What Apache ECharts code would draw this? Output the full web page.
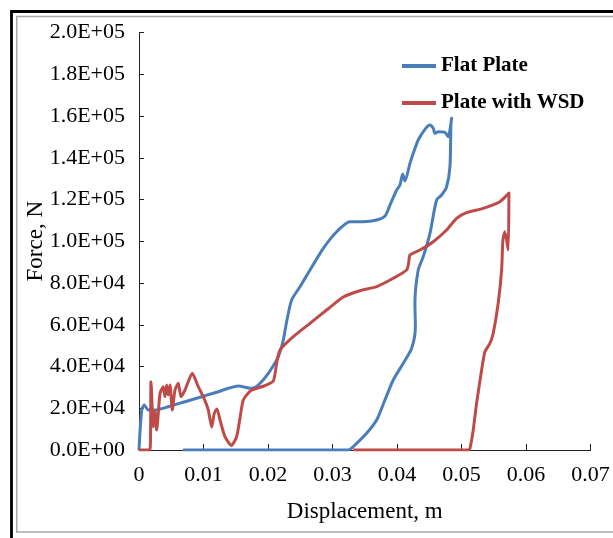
<!DOCTYPE html>
<html>
<head>
<meta charset="utf-8">
<script src="https://cdn.jsdelivr.net/npm/echarts@6/dist/echarts.min.js"></script>
<style>
  html, body { margin: 0; padding: 0; background: #fff; }
  #chart { width: 613px; height: 538px; }
</style>
</head>
<body>
<div id="chart"></div>
<script>
// Force–displacement response, displacement in m, force in N
const flatPlateDisp = [0, 0.00042, 0.00082, 0.00144, 0.00248, 0.00454, 0.00713, 0.00972, 0.01229, 0.01384,
  0.0154, 0.01747, 0.0185, 0.02005, 0.0216, 0.02237, 0.02294, 0.02367, 0.02496, 0.02651,
  0.02857, 0.03065, 0.03271, 0.03477, 0.03685, 0.03814, 0.03891, 0.03995, 0.04046, 0.04088,
  0.04123, 0.04201, 0.04252, 0.04329, 0.04433, 0.0451, 0.04562, 0.04588, 0.04639, 0.04743,
  0.04794, 0.04821, 0.04847, 0.04836, 0.04821, 0.04769, 0.04692, 0.04614, 0.04511, 0.04407,
  0.04329, 0.04278, 0.04285, 0.04227, 0.04097, 0.03942, 0.03813, 0.03684, 0.03529, 0.03374,
  0.03244, 0.00682];
const flatPlateForce = [0, 19160, 21560, 19160, 19160, 20740, 23140, 25530, 27930, 29550,
  30660, 29550, 31140, 36740, 44690, 52690, 62270, 71850, 78220, 86220,
  96610, 104570, 109360, 109360, 110170, 112090, 117360, 124540, 126940, 132200,
  128850, 137330, 142120, 148490, 153610, 155680, 154100, 151700, 152470, 152180,
  150070, 153280, 158890, 155680, 135700, 126120, 122150, 119750, 103800, 92620,
  86220, 70270, 59060, 48710, 41530, 33530, 23950, 14370, 8000, 3210,
  0, 0];

const wsdDisp = [0, 0.0017, 0.00186, 0.00222, 0.00248, 0.00274, 0.00326, 0.00377, 0.00403, 0.00429,
  0.00454, 0.00481, 0.00516, 0.00558, 0.00609, 0.00651, 0.00713, 0.00826, 0.00919, 0.00997,
  0.01074, 0.01127, 0.01167, 0.01209, 0.01256, 0.01333, 0.01434, 0.01514, 0.01566, 0.01617,
  0.01736, 0.01938, 0.02082, 0.02134, 0.02186, 0.02392, 0.02651, 0.02909, 0.03167, 0.03426,
  0.03684, 0.03942, 0.04149, 0.0418, 0.04201, 0.04356, 0.04562, 0.04769, 0.04924, 0.05079,
  0.05337, 0.05595, 0.05735, 0.05724, 0.05673, 0.05642, 0.05622, 0.05569, 0.05492, 0.05441,
  0.05363, 0.05312, 0.05234, 0.05182, 0.05131, 0.05104, 0.03317];
const wsdForce = [0, 0, 32720, 11160, 18350, 9580, 27160, 30320, 25530, 31140,
  26350, 31140, 19160, 28740, 31950, 25530, 28740, 36740, 30320, 25530,
  19160, 11020, 17580, 19640, 14370, 6370, 2160, 6370, 15330, 23950,
  28500, 30660, 33050, 41530, 47900, 54270, 60690, 67060, 73290, 76310,
  78220, 82250, 86220, 89430, 93410, 95800, 99780, 105380, 110990, 113670,
  115780, 118940, 123100, 95800, 104570, 100590, 86220, 70270, 55900, 51110,
  47090, 38320, 22370, 9580, 810, 0, 0];

const seriesNames = ['Flat Plate', 'Plate with WSD'];
const seriesColors = ['#4a7ebb', '#be4b48'];

const zip = (xs, ys) => xs.map((x, i) => [x, ys[i]]);

// "2.0E+05" style labels
function sciLabel(v) {
  const s = Number(v).toExponential(1).toUpperCase();
  const m = s.match(/^(-?[\d.]+)E([+-])(\d+)$/);
  return m[1] + 'E' + m[2] + m[3].padStart(2, '0');
}

const serif = '"Liberation Serif", "DejaVu Serif", serif';
const chart = echarts.init(document.getElementById('chart'), null, { renderer: 'canvas' });

chart.setOption({
  backgroundColor: '#fff',
  animation: false,
  graphic: [
    { type: 'rect', z: -1, shape: { x: 11.5, y: 11.5, width: 700, height: 600 },
      style: { fill: 'none', stroke: '#000', lineWidth: 2.8 } },
    { type: 'rect', z: -1, shape: { x: 16.8, y: 16.5, width: 700, height: 515.5 },
      style: { fill: 'none', stroke: '#a8a8a8', lineWidth: 1.5 } }
  ],
  grid: { left: 139, right: 22.5, top: 32.5, bottom: 88 },
  legend: {
    orient: 'vertical',
    left: 397,
    top: 50,
    itemWidth: 34,
    itemHeight: 4,
    itemGap: 15,
    icon: 'rect',
    textStyle: { fontFamily: serif, fontSize: 21, fontWeight: 'bold', color: '#000', lineHeight: 22 },
    data: seriesNames
  },
  xAxis: {
    type: 'value',
    min: 0, max: 0.07, interval: 0.01,
    name: 'Displacement, m',
    nameLocation: 'middle',
    nameGap: 50,
    nameMoveOverlap: false,
    nameTextStyle: { fontFamily: serif, fontSize: 23, color: '#000' },
    axisLine: { lineStyle: { color: '#222', width: 1 } },
    axisTick: { inside: true, length: 6, lineStyle: { color: '#222' } },
    axisLabel: { fontFamily: serif, fontSize: 22, color: '#000', margin: 14,
      formatter: v => (v === 0 ? '0' : (Math.round(v * 100) / 100).toFixed(2)) },
    splitLine: { show: false }
  },
  yAxis: {
    type: 'value',
    min: 0, max: 200000, interval: 20000,
    name: 'Force, N',
    nameLocation: 'middle',
    nameGap: 92,
    nameMoveOverlap: false,
    nameTextStyle: { fontFamily: serif, fontSize: 23, color: '#000' },
    axisLine: { show: true, lineStyle: { color: '#222', width: 1 } },
    axisTick: { show: true, inside: true, length: 5, lineStyle: { color: '#222' } },
    axisLabel: { fontFamily: serif, fontSize: 22, color: '#000', margin: 14, formatter: sciLabel },
    splitLine: { show: false }
  },
  series: [
    { name: seriesNames[0], type: 'line', data: zip(flatPlateDisp, flatPlateForce),
      showSymbol: false, smooth: 0.25, color: seriesColors[0],
      lineStyle: { width: 3, color: seriesColors[0], join: 'round' } },
    { name: seriesNames[1], type: 'line', data: zip(wsdDisp, wsdForce),
      showSymbol: false, smooth: 0.2, color: seriesColors[1],
      lineStyle: { width: 3, color: seriesColors[1], join: 'round' } }
  ]
});
</script>
</body>
</html>
